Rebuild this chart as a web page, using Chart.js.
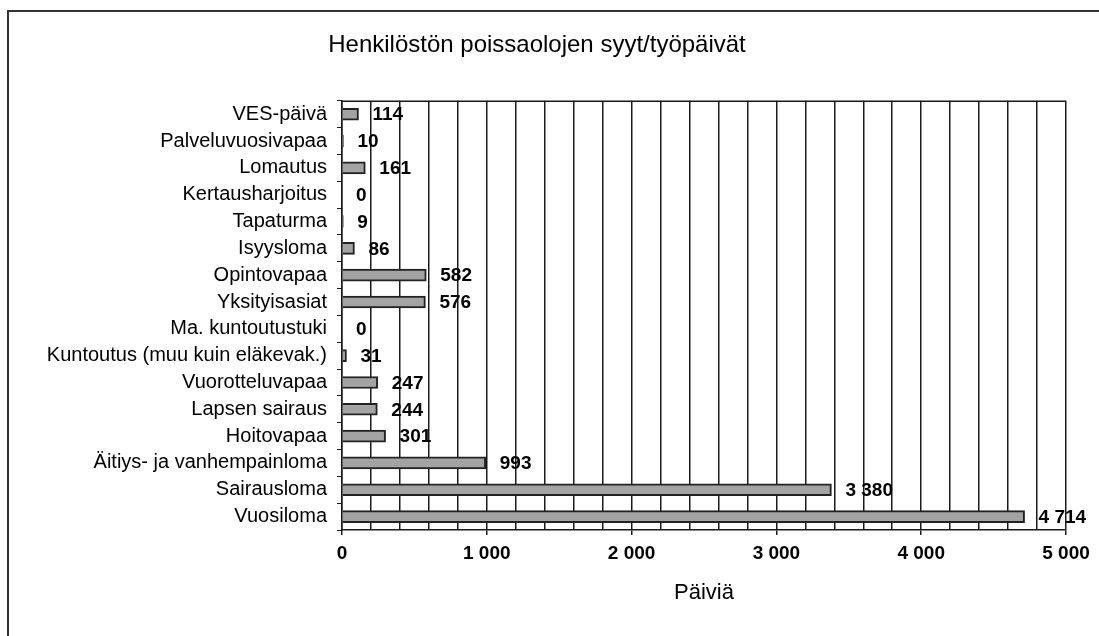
<!DOCTYPE html>
<html>
<head>
<meta charset="utf-8">
<title>Henkilöstön poissaolojen syyt</title>
<script src="https://cdn.jsdelivr.net/npm/chart.js@4"></script>
<style>
	html, body { margin: 0; padding: 0; background: #fff; }
	canvas { display: block; }
</style>
</head>
<body>
<canvas id="absenceChart" width="1099" height="636"></canvas>
<script>
const categories = [
	"VES-päivä",
	"Palveluvuosivapaa",
	"Lomautus",
	"Kertausharjoitus",
	"Tapaturma",
	"Isyysloma",
	"Opintovapaa",
	"Yksityisasiat",
	"Ma. kuntoutustuki",
	"Kuntoutus (muu kuin eläkevak.)",
	"Vuorotteluvapaa",
	"Lapsen sairaus",
	"Hoitovapaa",
	"Äitiys- ja vanhempainloma",
	"Sairausloma",
	"Vuosiloma"
];
const days = [114, 10, 161, 0, 9, 86, 582, 576, 0, 31, 247, 244, 301, 993, 3380, 4714];

const xMax = 5000;
const gridStep = 200;
const labelStep = 1000;

const FONT = "'Liberation Sans', Arial, sans-serif";
const INK = "#1a1a1a";

function fmt(n) {
	return String(n).replace(/\B(?=(\d{3})+(?!\d))/g, " ");
}

// outer frame (top + left only) and a top edge for the plot box
const framePlugin = {
	id: "frame",
	beforeDraw(chart) {
		const c = chart.ctx;
		c.save();
		c.fillStyle = "#fff";
		c.fillRect(0, 0, chart.width, chart.height);
		c.strokeStyle = "#333";
		c.lineWidth = 2;
		c.beginPath();
		c.moveTo(8, chart.height);
		c.lineTo(8, 11);
		c.lineTo(chart.width, 11);
		c.stroke();
		c.restore();
	},
	afterDraw(chart) {
		const a = chart.chartArea;
		const c = chart.ctx;
		c.save();
		c.strokeStyle = INK;
		c.lineWidth = 1.5;
		c.beginPath();
		c.moveTo(a.left, a.top + 0.5);
		c.lineTo(a.right, a.top + 0.5);
		c.stroke();
		c.restore();
	}
};

// value labels next to the bars
const valueLabels = {
	id: "valueLabels",
	afterDatasetsDraw(chart) {
		const c = chart.ctx;
		const meta = chart.getDatasetMeta(0);
		c.save();
		c.font = "bold 19px " + FONT;
		c.fillStyle = "#000";
		c.textAlign = "left";
		c.textBaseline = "middle";
		meta.data.forEach((bar, i) => {
			c.fillText(fmt(days[i]), bar.x + 14, bar.y + 1);
		});
		c.restore();
	}
};

new Chart(document.getElementById("absenceChart"), {
	type: "bar",
	data: {
		labels: categories,
		datasets: [{
			data: days,
			backgroundColor: "#a3a3a3",
			borderColor: "#222",
			borderWidth: 2,
			barThickness: 12
		}]
	},
	options: {
		indexAxis: "y",
		responsive: false,
		animation: false,
		devicePixelRatio: 1,
		layout: { padding: { left: 8, right: 33, top: 0, bottom: 0 } },
		plugins: {
			legend: { display: false },
			tooltip: { enabled: false },
			title: {
				display: true,
				text: "Henkilöstön poissaolojen syyt/työpäivät",
				color: "#000",
				font: { family: FONT, size: 24, weight: "normal" },
				padding: { top: 31, bottom: 41 }
			}
		},
		scales: {
			x: {
				min: 0,
				max: xMax,
				afterFit(scale) { scale.height = 106; },
				border: { display: true, color: INK, width: 1.5 },
				grid: {
					color: INK,
					lineWidth: 1.5,
					drawTicks: true,
					tickLength: 5,
					tickColor: ctx => (ctx.tick && ctx.tick.value % labelStep === 0) ? INK : "rgba(0,0,0,0)"
				},
				ticks: {
					stepSize: gridStep,
					autoSkip: false,
					maxRotation: 0,
					padding: 7,
					color: "#000",
					font: { family: FONT, size: 19, weight: "bold" },
					callback: v => (v % labelStep === 0 ? fmt(v) : "")
				},
				title: {
					display: true,
					text: "Päiviä",
					color: "#000",
					font: { family: FONT, size: 22, weight: "normal" },
					padding: { top: 0, bottom: 30 }
				}
			},
			y: {
				afterFit(scale) { scale.width = 334; },
				border: { display: true, color: INK, width: 1.5 },
				grid: {
					drawOnChartArea: false,
					drawTicks: true,
					tickLength: 5,
					tickColor: INK,
					offset: true
				},
				ticks: {
					autoSkip: false,
					padding: 10,
					color: "#000",
					font: { family: FONT, size: 20, weight: "normal" }
				}
			}
		}
	},
	plugins: [framePlugin, valueLabels]
});
</script>
</body>
</html>
